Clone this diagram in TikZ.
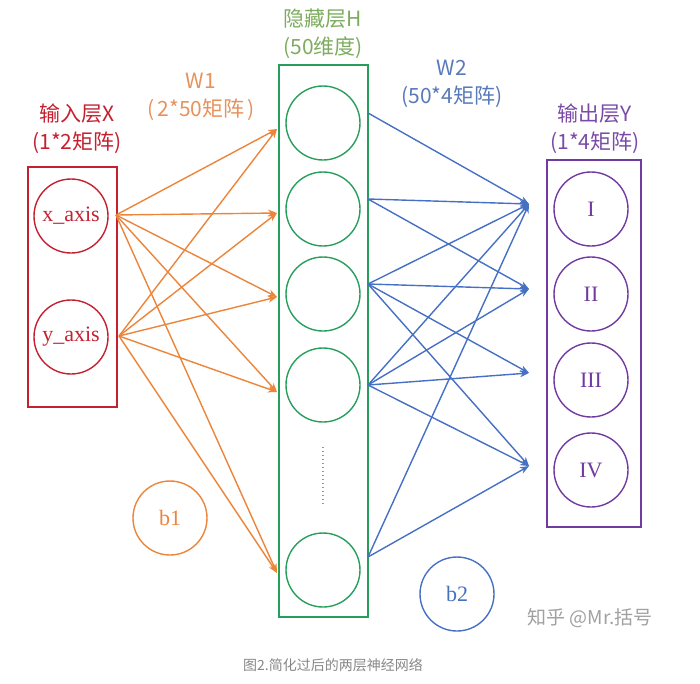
\documentclass[tikz,border=0pt]{standalone}
\usepackage{fontspec}
\setmainfont{Liberation Serif}
\newfontfamily\cjk{Noto Sans CJK SC}
\usetikzlibrary{arrows.meta}

\definecolor{inred}{RGB}{196,32,48}
\definecolor{w1col}{RGB}{236,132,58}
\definecolor{w1text}{RGB}{230,146,92}
\definecolor{hidgreen}{RGB}{40,158,92}
\definecolor{hidtext}{RGB}{125,172,95}
\definecolor{w2col}{RGB}{70,112,196}
\definecolor{w2text}{RGB}{88,122,186}
\definecolor{outpurple}{RGB}{112,58,160}
\definecolor{outtext}{RGB}{122,74,166}
\definecolor{marktext}{RGB}{160,160,160}
\definecolor{captext}{RGB}{135,135,135}

\begin{document}
\begin{tikzpicture}[x=1pt, y=-1pt,
    unit/.style={circle, draw, line width=1.4pt, minimum size=74pt, inner sep=0pt,
                 font=\fontsize{22}{22}\selectfont},
    layerbox/.style={draw, line width=1.6pt, inner sep=0pt},
    tag/.style={font=\cjk\fontsize{21}{28}\selectfont, align=center},
    link/.style={line width=1.4pt, -{Stealth[length=9pt,width=7pt]}}]

    \useasboundingbox (0,0) rectangle (700,683);

    % Input layer X
    \node[unit, draw=inred, text=inred] (xaxis) at (71,216) {x\_axis};
    \node[unit, draw=inred, text=inred] (yaxis) at (71,337) {y\_axis};
    \node[layerbox, draw=inred, minimum width=89pt, minimum height=240pt] (inbox) at (72.5,287) {};
    \node[tag, text=inred] (inlabel) at (77,129) {输入层X\\(1*2矩阵)};

    % Hidden layer H
    \foreach \i/\y in {1/123,2/209,3/294,4/385,5/570}
        \node[unit, draw=hidgreen] (h\i) at (323,\y) {};
    \node[layerbox, draw=hidgreen, minimum width=89pt, minimum height=552pt] (hidbox) at (323.5,341) {};
    \draw[hidtext, line width=1.3pt, dash pattern=on 1pt off 3pt] (323,447) -- (323,505);
    \node[tag, text=hidtext] (hidlabel) at (323,34) {隐藏层H\\(50维度)};

    % Output layer Y
    \foreach \i/\n/\y in {1/I/209,2/II/294,3/III/380,4/IV/470}
        \node[unit, draw=outpurple, text=outpurple] (o\i) at (591,\y) {\n};
    \node[layerbox, draw=outpurple, minimum width=94pt, minimum height=367pt] (outbox) at (594,343.5) {};
    \node[tag, text=outtext] (outlabel) at (595,129) {输出层Y\\(1*4矩阵)};

    % Biases
    \node[unit, draw=w1col, text=w1col] (b1) at (170,518) {b1};
    \node[unit, draw=w2col, text=w2col] (b2) at (457,594) {b2};

    % Weight labels
    \node[tag, text=w1text] (w1label) at (201,97) {W1\\(\,2*50矩阵\,)};
    \node[tag, text=w2text] (w2label) at (452,84) {W2\\(50*4矩阵)};

    % Connector ends
    \coordinate (sx) at (116,215);
    \coordinate (sy) at (119,336);
    \foreach \i/\y in {1/129,2/213,3/297,4/392,5/573}
        \coordinate (hin\i) at (277,\y);
    \foreach \i/\y in {1/113,2/199,3/284,4/385,5/557}
        \coordinate (hout\i) at (368,\y);
    \foreach \i/\y in {1/204,2/289,3/373,4/466}
        \coordinate (oin\i) at (529,\y);

    % W1 connections
    \foreach \s in {sx,sy}
        \foreach \t in {1,...,5}
            \draw[link, w1col] (\s) -- (hin\t);

    % W2 connections
    \foreach \s/\t in {1/1,2/1,2/2,3/1,3/2,3/3,3/4,4/1,4/2,4/3,4/4,5/1,5/4}
        \draw[link, w2col] (hout\s) -- (oin\t);

    % Watermark and caption
    \node[font=\cjk\fontsize{19}{19}\selectfont, text=marktext] (mark) at (590,618) {知乎 @Mr.括号};
    \node[font=\cjk\fontsize{14}{14}\selectfont, text=captext] (caption) at (333,665) {图2.简化过后的两层神经网络};

\end{tikzpicture}
\end{document}
